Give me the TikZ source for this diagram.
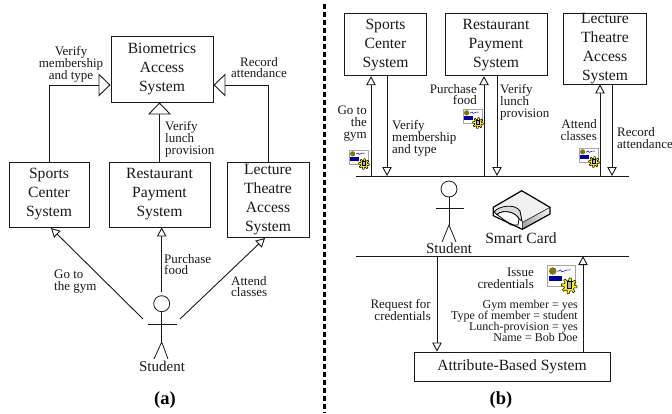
\documentclass[tikz,border=0pt]{standalone}
\usepackage{fontspec}
\setmainfont{Liberation Serif}
\usetikzlibrary{arrows.meta}
\lineskiplimit=-6pt
\definecolor{ink}{gray}{0.1}
\tikzset{
  x=1pt,y=-1pt,
  sysbox/.style={draw=ink,line width=0.9pt,fill=white,inner sep=0pt},
  systext/.style={inner sep=0pt,align=center,text=ink,font=\fontsize{15.6}{19}\selectfont},
  lab/.style={inner sep=0pt,text=ink,font=\fontsize{13}{11.9}\selectfont},
  labl/.style={lab,align=left,anchor=west},
  labr/.style={lab,align=right,anchor=east},
  labc/.style={lab,align=center},
  small/.style={inner sep=0pt,text=ink,align=right,anchor=east,font=\fontsize{12}{10.8}\selectfont},
  captext/.style={inner sep=0pt,text=black,font=\fontsize{18.5}{20}\selectfont\bfseries},
  flow/.style={draw=ink,line width=0.9pt,-{Triangle[length=9pt,width=9.5pt,fill=white,line width=0.9pt]}},
  bigflow/.style={draw=ink,line width=0.9pt,-{Triangle[length=12pt,width=23pt,fill=white,line width=0.9pt]}},
  barline/.style={draw=ink,line width=0.9pt},
  fig/.style={draw=ink,line width=0.8pt},
  cred/.pic={
    \draw[gray!70,line width=.5pt,fill=white] (0,0) rectangle (19,14);
    \fill[olive!85!black] (3.6,3.8) circle (2.6);
    \draw[blue!70!black,line width=.5pt] (7,4.2) -- (9,3) -- (10,4.4) -- (13,3.2) -- (16,3);
    \fill[blue!60!black] (1.2,7.2) rectangle (10,11);
    \draw[black,line width=.5pt,fill=yellow] plot[domain=0:352.5,samples=48] ({15+(3.6+1.8*(mod(round(\x/7.5),6)<3))*cos(\x)},{14+(3.6+1.8*(mod(round(\x/7.5),6)<3))*sin(\x)}) -- cycle;
    \draw[black,line width=.4pt,fill=gray!60] (13.6,11) rectangle (16.4,15.5);
  }
}
\begin{document}
\begin{tikzpicture}
\useasboundingbox (0,0) rectangle (672,413);
% ---------- (a)
\node[sysbox,minimum width=102pt,minimum height=66pt] (abio) at (162,69) {};
\node[sysbox,minimum width=80pt,minimum height=65pt] (asports) at (49,194.5) {};
\node[sysbox,minimum width=101pt,minimum height=65pt] (arest) at (159.5,194.5) {};
\node[sysbox,minimum width=82pt,minimum height=75pt] (alect) at (268,199.5) {};
\node[systext] (tbio) at (abio) {Biometrics\\Access\\System};
\node[systext] (tasports) at (asports) {Sports\\Center\\System};
\node[systext] (tarest) at (arest) {Restaurant\\Payment\\System};
\node[systext] (talect) at (alect) {Lecture\\Theatre\\Access\\System};

\coordinate (acorner1) at (49,85);
\coordinate (acorner2) at (268,85);
\draw[bigflow] (asports.north -| acorner1) -- (acorner1) -- (acorner1 -| abio.west);
\draw[bigflow] (alect.north -| acorner2) -- (acorner2) -- (acorner2 -| abio.east);
\draw[bigflow] (arest.north) -- (arest.north |- abio.south);

\coordinate (ahead) at (161.7,303.7);
\draw[fig] (ahead) circle (8);
\draw[fig] (161.7,311.7) -- (161.7,342) coordinate (ahip);
\draw[fig] (148,324) -- (177,324);
\draw[fig] (154,359) -- (ahip) -- (168,359);
\node[systext,font=\fontsize{15}{18}\selectfont] (astudent) at (162,366) {Student};

\coordinate (afrom1) at (143,319);
\coordinate (afrom2) at (161.7,292);
\coordinate (afrom3) at (180,319);
\coordinate (ato1) at (51,228);
\coordinate (ato3) at (265,238);
\draw[flow] (afrom1) -- (ato1);
\draw[flow] (afrom2) -- (afrom2 |- arest.south);
\draw[flow] (afrom3) -- (ato3);

\node[labc] (l1) at (71,64.5) {Verify\\membership\\and type};
\node[labc] (l2) at (259,67.5) {Record\\attendance};
\node[labl] (l3) at (165,139.5) {Verify\\lunch\\provision};
\node[labl] (l4) at (54,281.5) {Go to\\the gym};
\node[labl] (l5) at (164,264.5) {Purchase\\food};
\node[labl] (l6) at (231,286.5) {Attend\\classes};
\node[captext] (capa) at (165,400) {(a)};

% ---------- divider
\coordinate (d1) at (324.5,4);
\coordinate (d2) at (324.5,413);
\draw[black,line width=3pt,dash pattern=on 5pt off 3pt] (d1) -- (d2);

% ---------- (b)
\node[sysbox,minimum width=81.5pt,minimum height=62pt] (bsports) at (385.5,44.7) {};
\node[sysbox,minimum width=102pt,minimum height=62pt] (brest) at (496,44.7) {};
\node[sysbox,minimum width=82.5pt,minimum height=70.3pt] (blect) at (605,48.8) {};
\node[systext] (tbsports) at (bsports) {Sports\\Center\\System};
\node[systext] (tbrest) at (brest) {Restaurant\\Payment\\System};
\node[systext] (tblect) at (blect) {Lecture\\Theatre\\Access\\System};

\coordinate (barA) at (356,176);
\coordinate (barB) at (629,176);
\coordinate (barC) at (356,256);
\coordinate (barD) at (629,256);
\draw[barline] (barA) -- (barB);
\draw[barline] (barC) -- (barD);

\coordinate (x1) at (371,0);
\coordinate (x2) at (387,0);
\coordinate (x3) at (484,0);
\coordinate (x4) at (497,0);
\coordinate (x5) at (600,0);
\coordinate (x6) at (612,0);
\draw[flow] (x1 |- barA) -- (x1 |- bsports.south);
\draw[flow] (x2 |- bsports.south) -- (x2 |- barA);
\draw[flow] (x3 |- barA) -- (x3 |- brest.south);
\draw[flow] (x4 |- brest.south) -- (x4 |- barA);
\draw[flow] (x5 |- barA) -- (x5 |- blect.south);
\draw[flow] (x6 |- blect.south) -- (x6 |- barA);

\node[labr] (m1) at (367,123.5) {Go to\\the\\gym};
\node[labl] (m2) at (392,138.5) {Verify\\membership\\and type};
\node[labr] (m3) at (477,94.5) {Purchase\\food};
\node[labl] (m4) at (500,102.5) {Verify\\lunch\\provision};
\node[labr] (m5) at (597,130) {Attend\\classes};
\node[labl] (m6) at (617,138) {Record\\attendance};

\pic at (349,150) {cred};
\pic at (463,109) {cred};
\pic at (579,148) {cred};
\pic[scale=1.45] at (547.5,265.5) {cred};

\coordinate (bhead) at (449,189);
\draw[fig] (bhead) circle (8);
\draw[fig] (449,197) -- (449,225) coordinate (bhip);
\draw[fig] (436,208) -- (464,208);
\draw[fig] (442,242) -- (bhip) -- (456,242);
\node[systext,font=\fontsize{15}{18}\selectfont] (bstudent) at (449,248) {Student};

% smart card
\coordinate (ct) at (521.7,190.7);
\coordinate (cl) at (493.3,207.3);
\coordinate (cr) at (550,207.3);
\coordinate (crl) at (550,214);
\coordinate (cb) at (522.3,229.3);
\coordinate (cll) at (493.3,215.7);
\coordinate (cf) at (522.3,222.5);
\fill[gray!12] (ct) -- (cl) -- (cf) -- (cr) -- cycle;
\shade[left color=gray!70,right color=gray!10] (cf) -- (cr) -- (crl) -- (cb) -- cycle;
\fill[white] (cl) -- (cf) -- (cb) -- (cll) -- cycle;
\draw[black,line width=.8pt,fill=gray!30] (494,212) .. controls (498,206) and (515,203) .. (520,211) -- (522,221) -- (519,219) .. controls (516,212) and (503,209) .. (497,214.5) -- cycle;
\draw[black,line width=.8pt,fill=white] (497,214.5) .. controls (503,209) and (516,212) .. (519,219) -- (518,225) -- (511,225) -- cycle;
\draw[black,line width=1.2pt,line join=round] (ct) -- (cl) -- (cll) -- (cb) -- (crl) -- (cr) -- cycle;
\draw[black,line width=.5pt] (cr) -- (cf) -- (cb);
\node[systext] (tcard) at (521,238) {Smart Card};

\node[sysbox,minimum width=196pt,minimum height=29pt] (babs) at (512,366.5) {};
\node[systext] (tabs) at (babs) {Attribute-Based System};
\coordinate (x7) at (437,0);
\coordinate (x8) at (583,0);
\draw[flow] (x7 |- barC) -- (x7 |- babs.north);
\draw[flow] (x8 |- babs.north) -- (x8 |- barC);

\node[labr] (m7) at (431,310) {Request for\\credentials};
\node[labr] (m8) at (534,278) {Issue\\credentials};
\node[small] (m9) at (578,321) {Gym member = yes\\Type of member = student\\Lunch-provision = yes\\Name = Bob Doe};
\node[captext] (capb) at (501,400) {(b)};
\end{tikzpicture}
\end{document}
